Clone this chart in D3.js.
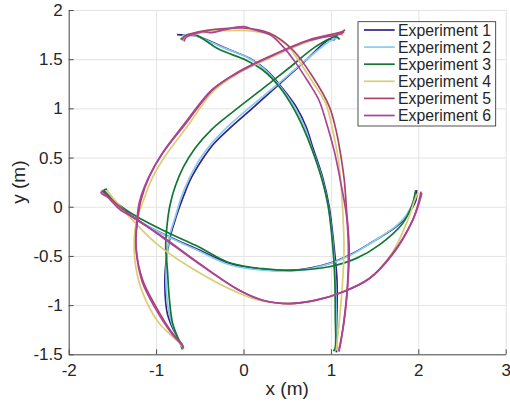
<!DOCTYPE html>
<html>
<head>
<meta charset="utf-8">
<script src="https://cdn.jsdelivr.net/npm/d3@7"></script>
<style>
  body { margin: 0; background: #fff; }
  text { font-family: "Liberation Sans", Arial, sans-serif; fill: #262626; }
</style>
</head>
<body>
<div id="chart"></div>
<script>
var names = ["Experiment 1", "Experiment 2", "Experiment 3", "Experiment 4", "Experiment 5", "Experiment 6"];
var colors = ["#332288", "#88ccee", "#117733", "#ddcc77", "#aa4466", "#aa4499"];
var xTicks = [-2, -1, 0, 1, 2, 3];
var yTicks = [-1.5, -1, -0.5, 0, 0.5, 1, 1.5, 2];

// each experiment: three robot paths, [x, y] in metres
var exp1 = [
  [[-0.76,1.75],[-0.68,1.745],[-0.55,1.74],[-0.20,1.61],[0.07,1.51],[0.26,1.39],[0.45,1.20],[0.60,1.02],[0.715,0.815],[0.79,0.61],[0.905,0.30],[0.98,0.0],[1.04,-0.44],[1.07,-0.75],[1.07,-1.05],[1.06,-1.43],[1.065,-1.48]],
  [[1.07,1.75],[1.04,1.70],[0.98,1.70],[0.68,1.46],[0.40,1.24],[0.10,1.00],[-0.18,0.78],[-0.34,0.64],[-0.48,0.47],[-0.60,0.29],[-0.69,0.10],[-0.77,-0.10],[-0.84,-0.31],[-0.885,-0.55],[-0.90,-0.80],[-0.87,-1.09],[-0.78,-1.29],[-0.70,-1.41]],
  [[-1.62,0.16],[-1.593,0.153],[-1.383,-0.034],[-1.154,-0.169],[-0.849,-0.305],[-0.506,-0.441],[-0.162,-0.576],[0.219,-0.637],[0.60,-0.645],[0.982,-0.576],[1.248,-0.475],[1.477,-0.356],[1.745,-0.204],[1.859,-0.102],[1.974,0.068],[1.98,0.17]]
];
var exp2 = [
  [[-0.70,1.74],[-0.60,1.75],[-0.24,1.62],[0.04,1.52],[0.24,1.40],[0.43,1.21],[0.58,1.02],[0.70,0.81],[0.78,0.60],[0.895,0.30],[0.97,0.0],[1.03,-0.44],[1.05,-0.75],[1.06,-1.05],[1.07,-1.40],[1.08,-1.45]],
  [[1.09,1.72],[1.00,1.69],[0.66,1.45],[0.37,1.23],[0.07,1.01],[-0.21,0.79],[-0.37,0.64],[-0.51,0.47],[-0.62,0.29],[-0.71,0.10],[-0.78,-0.10],[-0.85,-0.31],[-0.88,-0.55],[-0.885,-0.80],[-0.85,-1.09],[-0.77,-1.30],[-0.69,-1.42]],
  [[-1.58,0.16],[-1.38,-0.03],[-1.15,-0.17],[-0.85,-0.31],[-0.51,-0.45],[-0.16,-0.59],[0.22,-0.645],[0.60,-0.65],[0.98,-0.58],[1.25,-0.48],[1.48,-0.355],[1.74,-0.20],[1.86,-0.09],[1.95,0.07],[1.96,0.15]]
];
var exp3 = [
  [[-0.72,1.70],[-0.677,1.73],[-0.56,1.75],[-0.28,1.60],[0.03,1.49],[0.22,1.39],[0.41,1.22],[0.56,1.02],[0.69,0.79],[0.785,0.58],[0.90,0.27],[0.97,0.0],[1.025,-0.44],[1.045,-0.75],[1.05,-1.10],[1.05,-1.43],[1.03,-1.47]],
  [[1.10,1.70],[1.06,1.73],[0.83,1.63],[0.52,1.41],[0.22,1.20],[-0.10,0.98],[-0.36,0.79],[-0.55,0.60],[-0.69,0.40],[-0.78,0.21],[-0.84,0.02],[-0.875,-0.19],[-0.89,-0.41],[-0.87,-0.65],[-0.85,-0.92],[-0.81,-1.19],[-0.715,-1.41],[-0.70,-1.45]],
  [[-1.56,0.18],[-1.593,0.17],[-1.38,-0.01],[-1.15,-0.135],[-0.85,-0.27],[-0.51,-0.41],[-0.16,-0.57],[0.22,-0.63],[0.60,-0.645],[0.98,-0.61],[1.29,-0.525],[1.55,-0.39],[1.82,-0.17],[1.93,0.02],[1.97,0.17]]
];
var exp4 = [
  [[-0.70,1.72],[-0.62,1.74],[-0.47,1.77],[-0.20,1.79],[0.05,1.79],[0.30,1.75],[0.50,1.64],[0.62,1.50],[0.79,1.27],[0.94,1.05],[1.02,0.78],[1.09,0.45],[1.13,0.04],[1.15,-0.44],[1.13,-0.81],[1.07,-1.39],[1.06,-1.46]],
  [[1.14,1.74],[1.10,1.76],[0.75,1.68],[0.30,1.51],[-0.09,1.34],[-0.35,1.17],[-0.64,0.82],[-0.90,0.51],[-1.05,0.28],[-1.15,0.05],[-1.23,-0.17],[-1.25,-0.45],[-1.20,-0.75],[-1.08,-1.02],[-0.96,-1.19],[-0.73,-1.39],[-0.68,-1.45]],
  [[-1.56,0.17],[-1.535,0.136],[-1.306,-0.10],[-1.0,-0.373],[-0.62,-0.61],[-0.05,-0.88],[0.22,-0.96],[0.52,-0.985],[0.83,-0.95],[1.13,-0.87],[1.44,-0.73],[1.70,-0.47],[1.88,-0.135],[1.96,0.07],[2.0,0.15]]
];
var exp5 = [
  [[-0.70,1.69],[-0.677,1.731],[-0.50,1.78],[-0.354,1.80],[-0.01,1.817],[0.295,1.766],[0.562,1.596],[0.79,1.324],[0.982,1.018],[1.058,0.781],[1.096,0.611],[1.153,0.272],[1.176,0.0],[1.21,-0.441],[1.19,-0.815],[1.153,-1.154],[1.096,-1.442],[1.09,-1.47]],
  [[1.16,1.80],[1.134,1.782],[0.753,1.698],[0.295,1.527],[-0.086,1.358],[-0.354,1.188],[-0.658,0.849],[-0.926,0.544],[-1.078,0.305],[-1.173,0.068],[-1.212,-0.135],[-1.23,-0.407],[-1.154,-0.746],[-1.001,-1.018],[-0.811,-1.289],[-0.697,-1.408],[-0.69,-1.44]],
  [[-1.62,0.16],[-1.593,0.136],[-1.269,-0.102],[-0.926,-0.305],[-0.506,-0.576],[-0.048,-0.848],[0.219,-0.95],[0.524,-0.984],[0.83,-0.95],[1.134,-0.866],[1.439,-0.729],[1.706,-0.475],[1.935,-0.135],[2.011,0.068],[2.031,0.153]]
];
var exp6 = [
  [[-0.68,1.68],[-0.66,1.72],[-0.58,1.75],[-0.47,1.78],[-0.36,1.77],[-0.22,1.80],[0.0,1.83],[0.12,1.80],[0.30,1.75],[0.45,1.63],[0.60,1.46],[0.74,1.27],[0.86,1.09],[0.94,0.88],[1.04,0.56],[1.12,0.21],[1.18,-0.10],[1.20,-0.44],[1.19,-0.80],[1.15,-1.15],[1.10,-1.44],[1.09,-1.47]],
  [[1.15,1.78],[1.12,1.76],[0.75,1.69],[0.29,1.52],[-0.09,1.35],[-0.36,1.19],[-0.67,0.85],[-0.94,0.53],[-1.09,0.29],[-1.19,0.05],[-1.22,-0.15],[-1.23,-0.42],[-1.16,-0.76],[-1.01,-1.03],[-0.82,-1.29],[-0.71,-1.40],[-0.69,-1.43]],
  [[-1.60,0.17],[-1.63,0.14],[-1.56,0.10],[-1.40,-0.04],[-1.25,-0.11],[-0.93,-0.31],[-0.51,-0.58],[-0.05,-0.85],[0.22,-0.95],[0.52,-0.985],[0.83,-0.95],[1.13,-0.87],[1.44,-0.73],[1.71,-0.48],[1.94,-0.13],[2.02,0.07],[2.04,0.14]]
];
var experiments = [exp1, exp2, exp3, exp4, exp5, exp6];

var width = 510, height = 406;
var pLeft = 68.7, pRight = 505.7, pTop = 10, pBottom = 354.3;

var svg = d3.select("#chart").append("svg")
    .attr("width", width)
    .attr("height", height);

var x = d3.scaleLinear().domain([-2, 3]).range([pLeft, pRight]);
var y = d3.scaleLinear().domain([-1.5, 2]).range([pBottom, pTop]);
var fmt = function(d) { return String(d); };

// grid
svg.append("g")
    .attr("transform", "translate(0," + pBottom + ")")
    .call(d3.axisBottom(x).tickValues(xTicks).tickSize(-(pBottom - pTop)).tickFormat(""))
    .call(function(g) { g.select(".domain").remove(); })
    .selectAll("line").attr("stroke", "#e3e3e3");
svg.append("g")
    .attr("transform", "translate(" + pLeft + ",0)")
    .call(d3.axisLeft(y).tickValues(yTicks).tickSize(-(pRight - pLeft)).tickFormat(""))
    .call(function(g) { g.select(".domain").remove(); })
    .selectAll("line").attr("stroke", "#e3e3e3");

var line = d3.line()
    .x(function(d) { return x(d[0]); })
    .y(function(d) { return y(d[1]); })
    .curve(d3.curveCatmullRom.alpha(0.5));

experiments.forEach(function(paths, i) {
  svg.append("g").selectAll("path")
      .data(paths)
    .enter().append("path")
      .attr("d", line)
      .attr("fill", "none")
      .attr("stroke", colors[i])
      .attr("stroke-width", 1.7)
      .attr("stroke-linejoin", "round");
});

// axes
var xAxis = svg.append("g")
    .attr("transform", "translate(0," + pBottom + ")")
    .call(d3.axisBottom(x).tickValues(xTicks).tickSizeInner(-5).tickSizeOuter(0).tickPadding(10).tickFormat(fmt));
var yAxis = svg.append("g")
    .attr("transform", "translate(" + pLeft + ",0)")
    .call(d3.axisLeft(y).tickValues(yTicks).tickSizeInner(-5).tickSizeOuter(0).tickPadding(6).tickFormat(fmt));
[xAxis, yAxis].forEach(function(a) {
  a.select(".domain").attr("stroke", "#4d4d4d");
  a.selectAll(".tick line").attr("stroke", "#4d4d4d");
  a.selectAll("text").attr("font-size", "17px").attr("fill", "#262626")
      .attr("font-family", "Liberation Sans, Arial, sans-serif");
});

svg.append("text")
    .attr("x", (pLeft + pRight) / 2)
    .attr("y", 395)
    .attr("text-anchor", "middle")
    .attr("font-size", "19px")
    .text("x (m)");
svg.append("text")
    .attr("transform", "translate(25," + (pTop + pBottom) / 2 + ") rotate(-90)")
    .attr("text-anchor", "middle")
    .attr("font-size", "19px")
    .text("y (m)");

// legend
var legend = svg.append("g");
legend.append("rect")
    .attr("x", 358).attr("y", 21.7)
    .attr("width", 137.7).attr("height", 104.3)
    .attr("fill", "#fff")
    .attr("stroke", "#262626")
    .attr("stroke-width", 0.8);
var item = legend.selectAll(".item")
    .data(names)
  .enter().append("g")
    .attr("transform", function(d, i) { return "translate(0," + (30 + i * 17.1) + ")"; });
item.append("line")
    .attr("x1", 364).attr("x2", 394.7)
    .attr("stroke", function(d, i) { return colors[i]; })
    .attr("stroke-width", 1.7);
item.append("text")
    .attr("x", 398)
    .attr("dy", "0.35em")
    .attr("font-size", "15.8px")
    .attr("fill", "#000")
    .text(function(d) { return d; });
</script>
</body>
</html>
